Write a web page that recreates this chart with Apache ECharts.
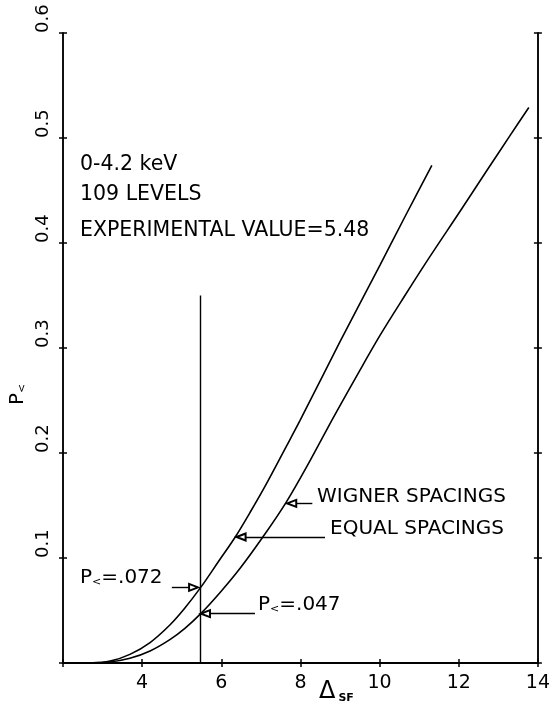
<!DOCTYPE html>
<html><head><meta charset="utf-8">
<script src="https://cdn.jsdelivr.net/npm/echarts@6/dist/echarts.min.js"></script>
<style>html,body{margin:0;padding:0;background:#fff}#c{width:553px;height:706px}</style>
</head><body><div id="c"></div>
<script>
// ---- data ----
const xTicks = [2, 4, 6, 8, 10, 12, 14];
const xTickLabels = ['', '4', '6', '8', '10', '12', '14'];
const yTickLabels = ['', '0.1', '0.2', '0.3', '0.4', '0.5', '0.6'];

const equalX = [2.68, 3.19, 3.69, 4.20, 4.70, 5.08, 5.48, 5.92, 6.37, 6.72, 7.10, 7.61, 7.99, 9.00, 10.01, 10.64, 11.32];
const equalY = [0.000, 0.0018, 0.0082, 0.0195, 0.0362, 0.0524, 0.072, 0.0962, 0.121, 0.143, 0.168, 0.204, 0.231, 0.306, 0.379, 0.425, 0.474];

const wignerX = [2.68, 3.19, 3.69, 4.20, 4.70, 5.08, 5.48, 5.97, 6.47, 7.05, 7.63, 8.24, 8.82, 9.43, 10.01, 10.64, 11.27, 12.03, 12.71, 13.29, 13.77];
const wignerY = [0.000, 0.001, 0.0045, 0.0115, 0.0223, 0.033, 0.047, 0.0672, 0.090, 0.120, 0.1525, 0.1925, 0.233, 0.274, 0.312, 0.350, 0.387, 0.430, 0.469, 0.502, 0.529];

const experimentalValue = 5.48;
const experimentalLineTop = 0.35;
const pEqual = 0.072;
const pWigner = 0.047;
const equalArrowY = 0.120;
const wignerArrowY = 0.152;

// ---- chart ----
const FONT = '"DejaVu Sans", sans-serif';
const chart = echarts.init(document.getElementById('c'), null, {renderer: 'canvas'});

function xAx(position, inside, labels) {
  return {
    type: 'value', position: position, min: 2, max: 14, interval: 2,
    axisLine: {show: true, lineStyle: {color: '#000', width: 1.5}},
    axisTick: {show: true, inside: inside, length: 4, lineStyle: {color: '#000', width: 1.5}},
    splitLine: {show: false},
    axisLabel: labels ? {
      show: true, margin: 11, color: '#000', fontFamily: FONT, fontSize: 19,
      formatter: v => xTickLabels[xTicks.indexOf(v)] || ''
    } : {show: false}
  };
}
function yAx(position, inside, labels) {
  return {
    type: 'value', position: position, min: 0, max: 0.6, interval: 0.1,
    axisLine: {show: true, lineStyle: {color: '#000', width: 1.5}},
    axisTick: {show: true, inside: inside, length: 4, lineStyle: {color: '#000', width: 1.5}},
    splitLine: {show: false},
    axisLabel: labels ? {
      show: true, margin: 20, rotate: 90, align: 'left', verticalAlign: 'middle',
      color: '#000', fontFamily: FONT, fontSize: 18,
      formatter: v => yTickLabels[Math.round(v * 10)] || ''
    } : {show: false}
  };
}

const arrowEnd = (x, y) => ({coord: [x, y], symbol: 'emptyTriangle', symbolSize: [7, 9]});
const plain = (x, y) => ({coord: [x, y], symbol: 'none'});

const txt = (text, x, y, size) => ({
  type: 'text', left: x, top: y,
  style: {text: text, fill: '#000', font: (size || 20.5) + 'px ' + FONT}
});
const richP = (rest) => ({
  text: '{p|P}{s|<}{n|' + rest + '}',
  rich: {
    p: {fontSize: 20, fontFamily: FONT, fill: '#000'},
    s: {fontSize: 11, fontFamily: FONT, fill: '#000', verticalAlign: 'bottom'},
    n: {fontSize: 20, fontFamily: FONT, fill: '#000'}
  }
});

chart.setOption({
  animation: false,
  backgroundColor: '#fff',
  grid: {left: 63, right: 15, top: 33, bottom: 43, containLabel: false},
  xAxis: [xAx('bottom', false, true), xAx('bottom', true, false), xAx('top', false, false), xAx('top', true, false)],
  yAxis: [yAx('left', false, true), yAx('left', true, false), yAx('right', false, false), yAx('right', true, false)],
  series: [
    {
      name: 'EQUAL SPACINGS', type: 'line', xAxisIndex: 0, yAxisIndex: 0,
      data: equalX.map((x, i) => [x, equalY[i]]),
      showSymbol: false, smooth: 0.35,
      lineStyle: {color: '#000', width: 1.6},
      markLine: {
        silent: true, symbol: ['none', 'none'], label: {show: false},
        lineStyle: {color: '#000', width: 1.4, type: 'solid'},
        emphasis: {disabled: true},
        data: [
          [plain(experimentalValue, 0), plain(experimentalValue, experimentalLineTop)],
          [plain(4.75, pEqual), arrowEnd(5.3, pEqual)],
          [plain(6.85, pWigner), arrowEnd(5.6, pWigner)],
          [plain(8.62, equalArrowY), arrowEnd(6.5, equalArrowY)],
          [plain(8.3, wignerArrowY), arrowEnd(7.78, wignerArrowY)]
        ]
      }
    },
    {
      name: 'WIGNER SPACINGS', type: 'line', xAxisIndex: 0, yAxisIndex: 0,
      data: wignerX.map((x, i) => [x, wignerY[i]]),
      showSymbol: false, smooth: 0.35,
      lineStyle: {color: '#000', width: 1.6}
    }
  ],
  graphic: [
    txt('0-4.2 keV', 80, 154),
    txt('109 LEVELS', 80, 184),
    txt('EXPERIMENTAL VALUE=5.48', 80, 220),
    txt('WIGNER SPACINGS', 317, 487, 20),
    txt('EQUAL SPACINGS', 330, 519, 20),
    {type: 'text', left: 80, top: 568, style: richP('=.072')},
    {type: 'text', left: 258, top: 595, style: richP('=.047')},
    {type: 'text', left: 319, top: 680, style: {
      text: '{d|Δ}{s|SF}',
      rich: {d: {fontSize: 24, fontFamily: FONT, fill: '#000'},
             s: {fontSize: 11, fontFamily: FONT, fill: '#000', fontWeight: 'bold', verticalAlign: 'bottom', padding: [0, 0, 0, 3]}}
    }},
    {type: 'text', x: 8, y: 405, rotation: Math.PI / 2, style: richP('')}
  ]
});
</script>
</body></html>
